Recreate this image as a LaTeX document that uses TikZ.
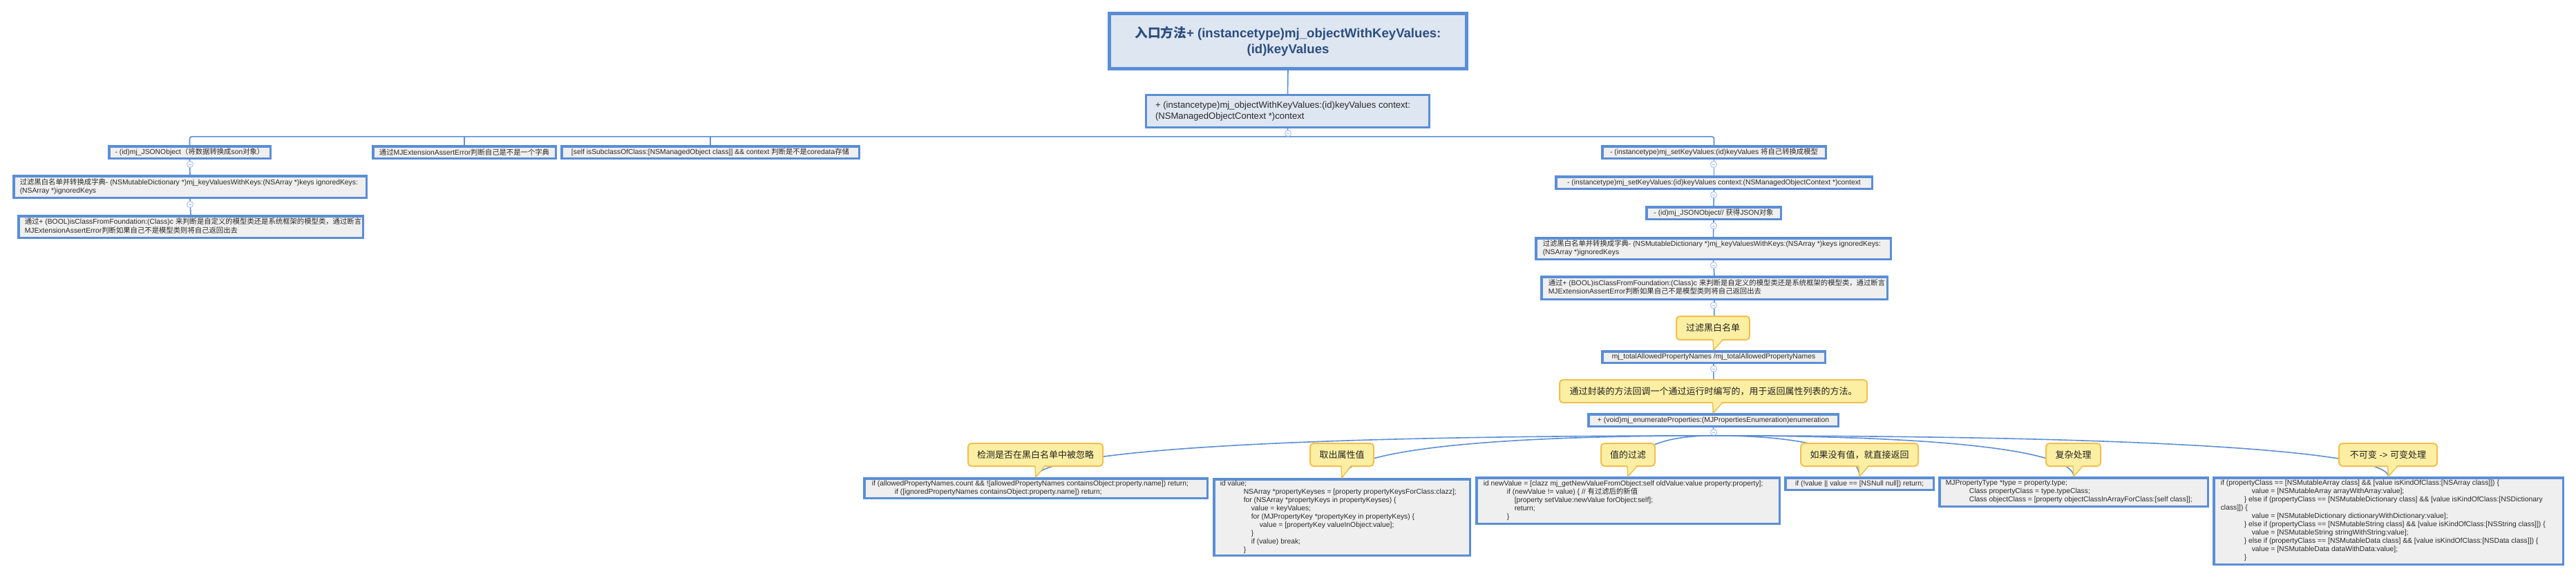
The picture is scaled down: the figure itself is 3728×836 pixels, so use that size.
\documentclass[tikz,border=0pt]{standalone}
\usepackage{fontspec}
\setmainfont{Liberation Sans}
\newfontfamily\cjkf{Noto Sans CJK SC}
\usetikzlibrary{calc}
\pgfdeclarelayer{bg}
\pgfdeclarelayer{background}
\pgfsetlayers{bg,background,main}
\newcount\cjkcnt
\newcommand\setcjkrange[2]{\cjkcnt=#1\relax\loop\XeTeXcharclass\cjkcnt=200\relax\ifnum\cjkcnt<#2\relax\advance\cjkcnt by 1\relax\repeat}
\setcjkrange{"3000}{"303F}
\setcjkrange{"4E00}{"9FFF}
\setcjkrange{"FF00}{"FFEF}
\XeTeXinterchartoks 0 200 = {\cjkf}
\XeTeXinterchartoks 4095 200 = {\cjkf}
\XeTeXinterchartoks 200 0 = {\rmfamily}
\XeTeXinterchartoks 200 4095 = {\rmfamily}
\XeTeXinterchartokenstate=1
\newcommand\fsz[2]{\fontsize{#1}{#2}\selectfont}
\newcommand\codel[2]{\makebox[#1][l]{\begin{tabular}{@{}l@{}}#2\end{tabular}}}
\newcommand\indt[1]{\hspace*{#1pt}}
\newcommand\ctail[2]{%
  \fill[calfill] ($(#1.south -| #2.north)+(-1,-3)$) -- (#2.north) -- ($(#1.south -| #2.north)+(13,-3)$) -- cycle;
  \draw[calbd, line width=1.5pt, line join=round] ($(#1.south -| #2.north)+(-1,-0.8)$) -- (#2.north) -- ($(#1.south -| #2.north)+(13,-0.8)$);}
\definecolor{bdblue}{HTML}{5A8ED6}
\definecolor{lnblue}{HTML}{5B8FD8}
\definecolor{bxgray}{HTML}{EFEFEF}
\definecolor{lightbx}{HTML}{DEE6F2}
\definecolor{ttlblue}{HTML}{2C4E7D}
\definecolor{txt}{HTML}{2A2A2A}
\definecolor{dotblue}{HTML}{9DB6E8}
\definecolor{calfill}{HTML}{FCEFA3}
\definecolor{calbd}{HTML}{F1C04F}
\definecolor{caltxt}{HTML}{222222}
\tikzset{
  conn/.style={draw=lnblue, line width=1.6pt},
  bx/.style={draw=bdblue, line width=3.5pt, fill=bxgray, inner sep=0pt, text=txt, font=\fsz{10.35}{12}},
  dot/.style={circle, draw=dotblue, fill=white, line width=0.8pt, minimum size=9pt, inner sep=0pt,
    path picture={\draw[dotblue, line width=0.7pt] ([xshift=-2.2pt]path picture bounding box.center) -- ([xshift=2.2pt]path picture bounding box.center);}},
  callout/.style={draw=calbd, fill=calfill, line width=2pt, rounded corners=5pt, minimum height=33pt, inner sep=0pt, text=caltxt, font=\fsz{13}{15}},
}
\begin{document}
\begin{tikzpicture}[x=1pt,y=-1pt]
\useasboundingbox (0,0) rectangle (3728,836);
\begin{pgfonlayer}{bg}
\fill[white] (0,0) rectangle (3728,836);
\end{pgfonlayer}

% title and second box
\node[bx, line width=5pt, fill=lightbx, minimum width=517pt, minimum height=80pt, font=\fsz{18.6}{23}\bfseries, text=ttlblue, align=center] (title) at (1864,59.5) {入口方法+ (instancetype)mj\_objectWithKeyValues:\\(id)keyValues};
\node[bx, line width=3pt, fill=lightbx, minimum width=410pt, minimum height=47pt, inner xsep=13.5pt, font=\fsz{13.1}{16}] (b2) at (1863.5,161) {\codel{383pt}{+ (instancetype)mj\_objectWithKeyValues:(id)keyValues context:\\(NSManagedObjectContext *)context}};

% level 2
\node[bx, minimum width=233.5pt, minimum height=17.5pt] (nA) at (274.5,220.5) {- (id)mj\_JSONObject（将数据转换成son对象）};
\node[bx, minimum width=264.5pt, minimum height=17.5pt] (nB) at (672,220.5) {通过MJExtensionAssertError判断自己是不是一个字典};
\node[bx, minimum width=430.5pt, minimum height=17.5pt] (nC) at (1028,220.5) {[self isSubclassOfClass:[NSManagedObject class]] \&\& context 判断是不是coredata存储};
\node[bx, minimum width=323.5pt, minimum height=17.5pt] (nD) at (2480.5,220.5) {- (instancetype)mj\_setKeyValues:(id)keyValues 将自己转换成模型};

% left chain
\node[bx, minimum width=510.5pt, minimum height=31.5pt, inner xsep=9pt] (nA1) at (275,270.5) {\codel{492.5pt}{过滤黑白名单并转换成字典- (NSMutableDictionary *)mj\_keyValuesWithKeys:(NSArray *)keys ignoredKeys:\\(NSArray *)ignoredKeys}};
\node[bx, minimum width=498.5pt, minimum height=31.5pt, inner xsep=9pt] (nA2) at (276,328.5) {\codel{480.5pt}{通过+ (BOOL)isClassFromFoundation:(Class)c 来判断是自定义的模型类还是系统框架的模型类，通过断言\\MJExtensionAssertError判断如果自己不是模型类则将自己返回出去}};

% right chain
\node[bx, minimum width=457.5pt, minimum height=17.5pt] (nD1) at (2480.5,264.5) {- (instancetype)mj\_setKeyValues:(id)keyValues context:(NSManagedObjectContext *)context};
\node[bx, minimum width=194.5pt, minimum height=17.5pt] (nD2) at (2480,308.5) {- (id)mj\_JSONObject// 获得JSON对象};
\node[bx, minimum width=513.5pt, minimum height=30.5pt, inner xsep=10pt] (nD3) at (2479.5,360) {\codel{493.5pt}{过滤黑白名单并转换成字典- (NSMutableDictionary *)mj\_keyValuesWithKeys:(NSArray *)keys ignoredKeys:\\(NSArray *)ignoredKeys}};
\node[bx, minimum width=500.5pt, minimum height=32.5pt, inner xsep=10pt] (nD4) at (2481,417) {\codel{480.5pt}{通过+ (BOOL)isClassFromFoundation:(Class)c 来判断是自定义的模型类还是系统框架的模型类，通过断言\\MJExtensionAssertError判断如果自己不是模型类则将自己返回出去}};
\node[bx, minimum width=322.5pt, minimum height=16.5pt] (nD5) at (2480,517) {mj\_totalAllowedPropertyNames /mj\_totalAllowedPropertyNames};
\node[bx, minimum width=361.5pt, minimum height=17.5pt] (nD6) at (2479.5,608.5) {+ (void)mj\_enumerateProperties:(MJPropertiesEnumeration)enumeration};

% bottom children
\node[bx, minimum width=496.5pt, minimum height=28.5pt, inner xsep=11pt] (e1) at (1499,707) {\codel{474.5pt}{if (allowedPropertyNames.count \&\& ![allowedPropertyNames containsObject:property.name]) return;\\
\indt{33}if ([ignoredPropertyNames containsObject:property.name]) return;}};
\node[bx, minimum width=370.5pt, minimum height=110.5pt, inner xsep=9pt, font=\fsz{10.35}{12.1}] (e2) at (1942,749) {\codel{352.5pt}{id value;\\
\indt{34}NSArray *propertyKeyses = [property propertyKeysForClass:clazz];\\
\indt{34}for (NSArray *propertyKeys in propertyKeyses) \{\\
\indt{45}value = keyValues;\\
\indt{45}for (MJPropertyKey *propertyKey in propertyKeys) \{\\
\indt{57}value = [propertyKey valueInObject:value];\\
\indt{45}\}\\
\indt{45}if (value) break;\\
\indt{34}\}}};
\node[bx, minimum width=438.5pt, minimum height=66.5pt, inner xsep=10pt] (e3) at (2356,725) {\codel{418.5pt}{id newValue = [clazz mj\_getNewValueFromObject:self oldValue:value property:property];\\
\indt{34}if (newValue != value) \{ // 有过滤后的新值\\
\indt{45}[property setValue:newValue forObject:self];\\
\indt{45}return;\\
\indt{34}\}}};
\node[bx, minimum width=214.5pt, minimum height=17.5pt] (e4) at (2691,700.5) {if (!value || value == [NSNull null]) return;};
\node[bx, minimum width=388.5pt, minimum height=41.5pt, inner xsep=9pt] (e5) at (3001,712.5) {\codel{370.5pt}{MJPropertyType *type = property.type;\\
\indt{34}Class propertyClass = type.typeClass;\\
\indt{34}Class objectClass = [property objectClassInArrayForClass:[self class]];}};
\node[bx, minimum width=505.5pt, minimum height=125.5pt, inner xsep=10pt] (e6) at (3456.5,754.5) {\codel{485.5pt}{if (propertyClass == [NSMutableArray class] \&\& [value isKindOfClass:[NSArray class]]) \{\\
\indt{45}value = [NSMutableArray arrayWithArray:value];\\
\indt{34}\} else if (propertyClass == [NSMutableDictionary class] \&\& [value isKindOfClass:[NSDictionary\\
class]]) \{\\
\indt{45}value = [NSMutableDictionary dictionaryWithDictionary:value];\\
\indt{34}\} else if (propertyClass == [NSMutableString class] \&\& [value isKindOfClass:[NSString class]]) \{\\
\indt{45}value = [NSMutableString stringWithString:value];\\
\indt{34}\} else if (propertyClass == [NSMutableData class] \&\& [value isKindOfClass:[NSData class]]) \{\\
\indt{45}value = [NSMutableData dataWithData:value];\\
\indt{34}\}}};

% collapse dots
\node[dot] (c0) at (1864,193) {};
\node[dot] (cA1) at (275,238) {};
\node[dot] (cA2) at (275,296) {};
\node[dot] (cD1) at (2480,238) {};
\node[dot] (cD2) at (2480,282) {};
\node[dot] (cD3) at (2480,327) {};
\node[dot] (cD4) at (2480,384) {};
\node[dot] (cD5) at (2480,442) {};
\node[dot] (cD6) at (2480,534) {};
\node[dot] (cE) at (2480,626) {};

% callouts
\node[callout, minimum width=106pt, minimum height=34pt] (k1) at (2479,475) {过滤黑白名单};
\node[callout, minimum width=445pt] (k2) at (2479.5,566.5) {通过封装的方法回调一个通过运行时编写的，用于返回属性列表的方法。};
\node[callout, minimum width=195pt] (k3) at (1498.5,658.5) {检测是否在黑白名单中被忽略};
\node[callout, minimum width=92pt] (k4) at (1942,658.5) {取出属性值};
\node[callout, minimum width=78pt] (k5) at (2356,658.5) {值的过滤};
\node[callout, minimum width=170pt] (k6) at (2691,658.5) {如果没有值，就直接返回};
\node[callout, minimum width=79pt] (k7) at (3000.5,658.5) {复杂处理};
\node[callout, minimum width=142pt] (k8) at (3456,658.5) {不可变 -> 可变处理};
\ctail{k1}{nD5}
\ctail{k2}{nD6}
\ctail{k3}{e1}
\ctail{k4}{e2}
\ctail{k5}{e3}
\ctail{k6}{e4}
\ctail{k7}{e5}
\ctail{k8}{e6}

% connectors
\begin{pgfonlayer}{background}
\draw[conn] (title.south) -- (b2.north);
\draw[conn] (b2.south) -- (c0.center);
\draw[conn, rounded corners=3pt] (nA.north) |- (c0.south) -| (nD.north);
\draw[conn] (nB.north) -- (nB.north |- c0.south);
\draw[conn] (nC.north) -- (nC.north |- c0.south);
\draw[conn] (nA.south) -- (nA1.north);
\draw[conn] (nA1.south) -- (nA2.north);
\draw[conn] (nD.south) -- (nD1.north);
\draw[conn] (nD1.south) -- (nD2.north);
\draw[conn] (nD2.south) -- (nD3.north);
\draw[conn] (nD3.south) -- (nD4.north);
\draw[conn] (nD4.south) -- (nD5.north);
\draw[conn] (nD5.south) -- (nD6.north);
\draw[conn] (nD6.south) -- (cE.center);
\foreach \e in {e1,e2,e3,e4,e5,e6}
  \draw[conn] (cE.south) .. controls ($(cE.south)!0.75!(cE.south -| \e.north)$) and ($(\e.north)+(0,-30)$) .. (\e.north);
\end{pgfonlayer}
\end{tikzpicture}
\end{document}
